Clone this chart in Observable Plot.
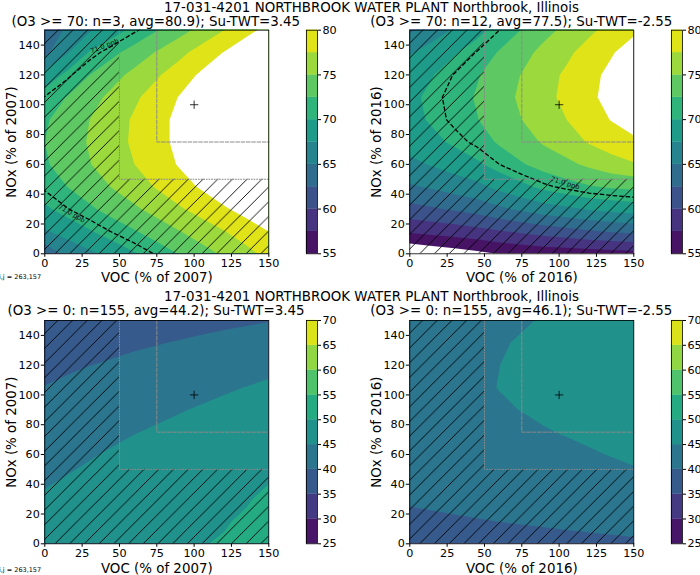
<!DOCTYPE html>
<html><head><meta charset="utf-8">
<script src="https://cdn.jsdelivr.net/npm/d3@7"></script>
<script src="https://cdn.jsdelivr.net/npm/@observablehq/plot@0.6"></script>
<style>
body{margin:0;background:#fff;}
#fig{position:relative;width:700px;height:575px;overflow:hidden;font-family:"DejaVu Sans",sans-serif;background:#fff;}
#fig > svg{position:absolute;}
.t{position:absolute;white-space:nowrap;color:#000;line-height:1;transform:translate(-50%,-50%);}
.s{position:absolute;white-space:nowrap;color:#000;line-height:1;transform:translate(0,-50%);}
</style></head><body><div id="fig"></div>
<script>
// ---------------- data ----------------
const vocPct = [0,15,30,45,60,75,90,105,120,135,150];
const noxPct = [0,15,30,45,60,75,90,105,120,135,150];
// rows: NOx 0 -> 150, columns: VOC 0 -> 150 (ppb)
const o3High2007 = [
 63.3,65.6,67.0,68.4,69.8,71.2,72.6,74.0,75.4,76.8,78.2,
 67.2,68.5,69.8,71.1,72.3,73.6,74.9,76.2,77.4,78.7,80.0,
 69.6,70.9,72.1,73.4,74.6,75.9,77.2,78.4,79.7,80.9,82.2,
 71.3,72.5,73.8,75.1,76.4,77.7,79.0,80.3,81.6,82.9,84.2,
 72.2,73.6,74.9,76.2,77.5,78.8,80.2,81.5,82.8,84.1,85.4,
 72.5,73.9,75.2,76.5,77.9,79.2,80.6,81.9,83.2,84.6,85.9,
 72.2,73.6,75.0,76.4,77.8,79.2,80.6,82.0,83.4,84.9,86.3,
 71.1,72.6,74.1,75.6,77.1,78.6,80.1,81.6,83.1,84.6,86.1,
 68.4,70.6,72.5,74.1,75.7,77.2,78.8,80.4,82.0,83.5,85.1,
 64.3,67.3,70.2,71.9,73.5,75.2,76.8,78.5,80.1,81.8,83.4,
 62.6,65.6,67.2,68.9,70.7,72.4,74.1,75.8,77.5,79.2,80.9];
const o3High2016 = [
 52.5,53.2,53.8,54.4,55.1,55.5,55.8,56.0,56.2,56.4,56.6,
 57.9,58.3,58.7,59.2,59.8,60.4,61.1,61.6,62.2,62.7,63.1,
 61.7,62.2,62.8,63.5,64.5,65.5,66.4,67.0,67.7,68.2,68.6,
 64.7,65.3,66.1,66.8,68.2,69.4,70.6,71.5,72.3,72.8,73.1,
 66.9,67.7,68.6,69.6,71.0,72.3,73.5,74.4,75.5,76.5,77.3,
 68.5,69.4,70.4,71.4,72.8,74.0,75.3,76.4,77.7,78.7,79.5,
 69.3,70.3,71.4,72.4,73.8,75.0,76.3,77.5,78.9,80.1,81.2,
 69.5,70.5,71.6,72.7,74.1,75.4,76.8,78.1,79.5,80.8,82.0,
 68.8,69.9,71.1,72.3,73.7,75.1,76.6,77.9,79.3,80.6,81.9,
 67.3,68.5,69.8,71.1,72.7,74.2,75.7,77.0,78.5,79.8,81.1,
 64.6,66.4,67.8,69.3,71.0,72.6,74.3,75.6,77.0,78.4,79.6];
const o3All2007 = [
 47.66,48.15,48.65,49.14,49.43,49.66,49.80,49.95,50.10,50.24,50.39,
 46.58,47.15,47.74,48.31,48.72,49.06,49.34,49.62,49.91,50.18,50.47,
 45.50,46.14,46.78,47.41,47.91,48.35,48.73,49.12,49.51,49.89,50.29,
 44.42,45.09,45.77,46.43,47.00,47.50,47.96,48.44,48.92,49.38,49.86,
 43.34,44.02,44.70,45.38,45.99,46.53,47.05,47.59,48.12,48.65,49.18,
 42.26,42.92,43.59,44.25,44.88,45.43,45.99,46.56,47.12,47.69,48.26,
 41.18,41.80,42.43,43.04,43.66,44.21,44.77,45.35,45.93,46.50,47.08,
 40.10,40.66,41.22,41.77,42.35,42.87,43.41,43.97,44.53,45.08,45.65,
 39.02,39.49,39.96,40.41,40.94,41.40,41.89,42.41,42.94,43.45,43.97,
 37.94,38.29,38.65,38.98,39.43,39.80,40.23,40.68,41.14,41.58,42.04,
 36.86,37.07,37.29,37.48,37.81,38.08,38.42,38.78,39.14,39.49,39.85];
const o3All2016 = [
 37.54,37.72,37.91,38.10,38.29,38.47,38.66,38.84,39.02,39.20,39.39,
 39.10,39.33,39.57,39.79,40.03,40.25,40.48,40.71,40.94,41.16,41.38,
 40.44,40.70,40.97,41.24,41.51,41.77,42.04,42.30,42.57,42.82,43.09,
 41.54,41.83,42.14,42.43,42.73,43.02,43.33,43.62,43.92,44.21,44.50,
 42.40,42.72,43.05,43.37,43.55,43.85,44.15,44.45,44.75,45.10,45.50,
 43.03,43.37,43.72,44.06,44.25,44.55,44.85,45.15,45.50,45.90,46.30,
 43.43,43.78,44.15,44.50,44.75,45.05,45.40,45.75,46.12,46.50,46.90,
 43.60,43.95,44.32,44.68,45.05,45.41,45.78,46.14,46.51,46.87,47.23,
 43.53,43.89,44.26,44.62,44.99,45.35,45.72,46.08,46.45,46.81,47.19,
 43.30,43.68,44.05,44.42,44.82,45.18,45.55,45.91,46.28,46.64,47.00,
 42.85,43.22,43.60,43.98,44.40,44.80,45.15,45.50,45.86,46.21,46.57];

const levelsHigh = [55,57.5,60,62.5,65,67.5,70,72.5,75,77.5,80];
const levelsAll  = [25,30,35,40,45,50,55,60,65,70];
const cbTicksHigh = [55,60,65,70,75,80];
const cbTicksAll  = [25,30,35,40,45,50,55,60,65,70];
const xTicks = [0,25,50,75,100,125,150];
const yTicks = [0,20,40,60,80,100,120,140];

const suptitle = "17-031-4201 NORTHBROOK WATER PLANT Northbrook, Illinois";
const subtitles = [
 "(O3 >= 70: n=3, avg=80.9); Su-TWT=3.45",
 "(O3 >= 70: n=12, avg=77.5); Su-TWT=-2.55",
 "(O3 >= 0: n=155, avg=44.2); Su-TWT=3.45",
 "(O3 >= 0: n=155, avg=46.1); Su-TWT=-2.55"];
const xLabels = ["VOC (% of 2007)","VOC (% of 2016)","VOC (% of 2007)","VOC (% of 2016)"];
const yLabels = ["NOx (% of 2007)","NOx (% of 2016)","NOx (% of 2007)","NOx (% of 2016)"];
const cellNote = "i,j = 263,157";

const isoLevel = 71.0;
const isoLabels2007 = [{voc:40, nox:139.5, angle:-21, text:"71.0 ppb"},{voc:18, nox:27, angle:30, text:"71.0 ppb"}];
const isoLabels2016 = [{voc:104, nox:47.5, angle:17, text:"71.0 ppb"}];
const basePoint = [{voc:100, nox:100}];
const hatchZones = [{x1:0,x2:50,y1:0,y2:150},{x1:50,x2:150,y1:0,y2:50}];
const box50 = [{voc:50,nox:150},{voc:50,nox:50},{voc:150,nox:50}];
const box75 = [{voc:75,nox:150},{voc:75,nox:75},{voc:150,nox:75}];

// ---------------- drawing ----------------
const fig = document.getElementById("fig");
const FONT = "DejaVu Sans";
const hatchSpacing = 14.7;

function colorsFor(levels){
  const n = levels.length - 1;
  return d3.range(n).map(i => d3.interpolateViridis((i + 0.5) / n));
}
function hatchDefs(id){
  return () => {
    const s = hatchSpacing;
    const defs = d3.create("svg:defs");
    const p = defs.append("pattern").attr("id", id).attr("patternUnits","userSpaceOnUse")
      .attr("width", s).attr("height", s);
    p.append("path")
      .attr("d", `M${-s/2},${s/2}L${s/2},${-s/2}M0,${s}L${s},0M${s/2},${1.5*s}L${1.5*s},${s/2}`)
      .attr("stroke","black").attr("stroke-width",0.9).attr("fill","none");
    return defs.node();
  };
}
function place(node, left, top){
  node.style.left = left + "px"; node.style.top = top + "px";
  fig.appendChild(node);
}
function text(cls, str, x, y, size){
  const d = document.createElement("div");
  d.className = cls; d.textContent = str;
  d.style.left = x + "px"; d.style.top = y + "px"; d.style.fontSize = size + "px";
  fig.appendChild(d);
}

function panel({values, levels, left, top, W, H, ml, mt, mr, mb, iso, isoLabels, id, xLabel, yLabel, xlabDy}){
  const n = vocPct.length, m = noxPct.length;
  const step = vocPct[1] - vocPct[0];
  const grid = {width:n, height:m,
    x1: vocPct[0] - step/2, x2: vocPct[n-1] + step/2,
    y1: noxPct[0] - step/2, y2: noxPct[m-1] + step/2};
  const marks = [
    hatchDefs(id),
    Plot.contour(values, {...grid, thresholds: levels, fill: Plot.identity, stroke: "none", clip: true}),
    Plot.rect(hatchZones, {x1:"x1", x2:"x2", y1:"y1", y2:"y2", fill:`url(#${id})`})
  ];
  if (iso) {
    marks.push(Plot.contour(values, {...grid, thresholds:[isoLevel], fill:"none", stroke:"black",
      strokeWidth:1.3, strokeDasharray:"4.5,2", clip:true}));
    marks.push(Plot.text(isoLabels, {x:"voc", y:"nox", text:"text", rotate:"angle", fontSize:6.7, fill:"#111"}));
  }
  marks.push(
    Plot.line(box50, {x:"voc", y:"nox", stroke:"#8a8a8a", strokeWidth:1, strokeDasharray:"1,1.65"}),
    Plot.line(box75, {x:"voc", y:"nox", stroke:"#8a8a8a", strokeWidth:1, strokeDasharray:"3.7,1.6"}),
    Plot.dot(basePoint, {x:"voc", y:"nox", symbol:"plus", r:2.8, stroke:"black", strokeWidth:0.8}),
    Plot.frame({stroke:"black", strokeWidth:0.8}),
    Plot.text([xLabel], {frameAnchor:"bottom", dy:xlabDy, lineAnchor:"middle", textAnchor:"middle", text:d=>d, fontSize:13.4}),
    Plot.text([yLabel], {frameAnchor:"left", dx:-33.3, rotate:-90, lineAnchor:"middle", textAnchor:"middle", text:d=>d, fontSize:13.4})
  );
  const colors = colorsFor(levels);
  const svg = Plot.plot({
    width: W, height: H, marginLeft: ml, marginTop: mt, marginRight: mr, marginBottom: mb,
    style: {fontFamily: FONT, fontSize: "11.2px", color: "black", background: "transparent", overflow: "visible"},
    x: {domain:[0,150], ticks: xTicks, tickSize: 3.5, tickPadding: 1.5, label: null},
    y: {domain:[0,150], ticks: yTicks, tickSize: 3.5, tickPadding: 1.5, label: null},
    color: {type:"threshold", domain: levels.slice(1), range: [...colors, "white"]},
    marks
  });
  place(svg, left, top);
}

function colorbar({levels, ticks, left, top, H, mt, mb}){
  const colors = colorsFor(levels);
  const step = levels[1] - levels[0];
  const bands = levels.slice(0, -1);
  const svg = Plot.plot({
    width: 45, height: H, marginLeft: 1, marginRight: 33, marginTop: mt, marginBottom: mb,
    style: {fontFamily: FONT, fontSize: "11.2px", color: "black", background: "transparent", overflow: "visible"},
    x: {domain:[0,1], axis: null},
    y: {domain:[levels[0], levels[levels.length-1]], axis: "right", ticks, tickSize: 3, tickPadding: 2, label: null},
    color: {type:"threshold", domain: levels.slice(1), range: [...colors, "white"]},
    marks: [
      Plot.rect(bands, {x1:0, x2:1, y1:d=>d, y2:d=>d+step, fill:d=>d, stroke:d=>d, strokeWidth:0.3}),
      Plot.frame({stroke:"black", strokeWidth:0.8})
    ]
  });
  place(svg, left, top);
}

const topRow = {top:0, H:290, mt:29.7, mb:36.7, xlabDy:23.5};
const botRow = {top:290, H:285, mt:30, mb:31.7, xlabDy:24.5};
const leftCol = {left:0, W:300, ml:44.3, mr:31.7, cb:304.7};
const rightCol = {left:350, W:300, ml:59.3, mr:16.7, cb:669.7};

const panels = [
  {values:o3High2007, levels:levelsHigh, ticks:cbTicksHigh, row:topRow, col:leftCol, iso:true, isoLabels:isoLabels2007, id:"h1"},
  {values:o3High2016, levels:levelsHigh, ticks:cbTicksHigh, row:topRow, col:rightCol, iso:true, isoLabels:isoLabels2016, id:"h2"},
  {values:o3All2007, levels:levelsAll, ticks:cbTicksAll, row:botRow, col:leftCol, iso:false, id:"h3"},
  {values:o3All2016, levels:levelsAll, ticks:cbTicksAll, row:botRow, col:rightCol, iso:false, id:"h4"}
];
panels.forEach((p, i) => {
  panel({values:p.values, levels:p.levels, left:p.col.left, top:p.row.top, W:p.col.W, H:p.row.H,
    ml:p.col.ml, mr:p.col.mr, mt:p.row.mt, mb:p.row.mb, iso:p.iso, isoLabels:p.isoLabels, id:p.id,
    xLabel:xLabels[i], yLabel:yLabels[i], xlabDy:p.row.xlabDy});
  colorbar({levels:p.levels, ticks:p.ticks, left:p.col.cb, top:p.row.top, H:p.row.H, mt:p.row.mt, mb:p.row.mb});
});

// titles
text("t", suptitle, 371.5, 7.5, 13.4);
text("t", suptitle, 371.5, 297, 13.4);
text("t", subtitles[0], 155.8, 22, 13.4);
text("t", subtitles[1], 521.3, 22, 13.4);
text("t", subtitles[2], 156, 310.5, 13.4);
text("t", subtitles[3], 521.3, 310.5, 13.4);
text("s", cellNote, -1, 276.5, 6.5);
text("s", cellNote, -1, 570, 6.5);
</script></body></html>
